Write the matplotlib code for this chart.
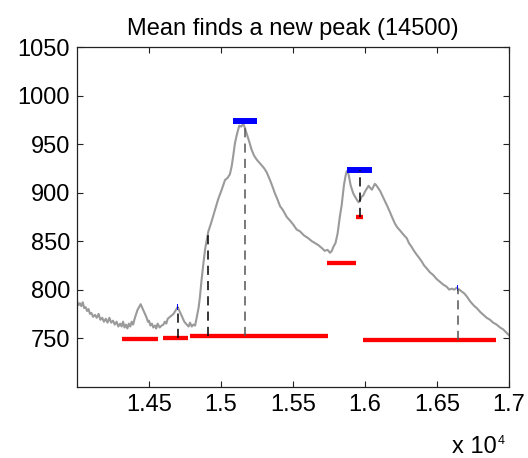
import matplotlib
matplotlib.use("Agg")
import matplotlib.pyplot as plt

plt.rcParams['font.family'] = ['Liberation Sans', 'DejaVu Sans']

title = "Mean finds a new peak (14500)"

signal_x = [14000, 14010, 14020, 14030, 14040, 14050, 14060, 14070, 14080, 14090,
            14100, 14112, 14125, 14137, 14150, 14162, 14175, 14187, 14200, 14212,
            14225, 14237, 14250, 14262, 14275, 14287, 14300, 14310, 14320, 14330,
            14340, 14350, 14360, 14370, 14380, 14390, 14400, 14420,
            14442, 14460, 14484, 14492, 14500, 14510, 14520, 14530, 14542, 14550,
            14560, 14574, 14588, 14600, 14610, 14620, 14630,
            14646, 14670, 14699, 14715, 14727, 14745, 14762, 14775, 14785, 14797,
            14808, 14820, 14831,
            14845, 14854, 14865, 14877, 14890, 14901, 14912, 14930, 14958, 14980,
            15005, 15028, 15045, 15062, 15074, 15085, 15097, 15112, 15127, 15140,
            15155, 15165, 15178, 15195, 15213, 15230, 15248, 15265, 15283, 15300,
            15317, 15340, 15358, 15375, 15392, 15410, 15430, 15456, 15480, 15502,
            15525, 15549, 15575, 15606, 15630, 15653, 15675, 15699, 15720, 15740,
            15757, 15770, 15780, 15795, 15810, 15825, 15838, 15854, 15866, 15873,
            15884, 15893, 15901, 15919, 15930, 15942, 15955, 15965, 15978, 15988,
            16000, 16012, 16025, 16035, 16048, 16058, 16068, 16076, 16090, 16104,
            16120, 16139, 16155, 16173, 16190, 16208, 16225, 16243, 16265, 16290,
            16305, 16324, 16340, 16359, 16375, 16394, 16410, 16428, 16450, 16474,
            16497, 16521, 16545, 16567, 16585, 16602, 16620, 16637, 16655, 16672,
            16690, 16707, 16725, 16741, 16760, 16776, 16800, 16822, 16845, 16868,
            16890, 16914, 16938, 16960, 16980, 17000]
signal_y = [788, 784, 786, 783, 787, 781, 782, 778, 780, 775,
            776, 772, 774, 771, 775, 769, 771, 767, 770, 766,
            771, 766, 768, 764, 767, 762, 765, 762, 767, 761,
            764, 760, 765, 762, 767, 764, 770, 779,
            785, 779, 771, 767, 768, 763, 765, 761, 763, 760,
            765, 761, 763, 764, 767, 765, 770,
            772, 775, 782, 777, 773, 767, 764, 762, 766, 762,
            764, 763, 771,
            782, 793, 810, 826, 842, 851, 860, 868, 882, 893,
            903, 913, 915, 919, 927, 938, 951, 961, 969, 968,
            971, 967, 961, 953, 944, 938, 934, 931, 928, 925,
            921, 913, 906, 899, 893, 886, 882, 875, 871, 867,
            862, 860, 856, 853, 850, 848, 846, 843, 840, 841,
            838, 840, 844, 848, 858, 875, 887, 908, 918, 922,
            920, 913, 907, 899, 896, 893, 890, 892, 896, 897,
            901, 904, 907, 905, 903, 906, 909, 908, 905, 902,
            897, 891, 886, 880, 874, 868, 864, 861, 857, 853,
            848, 844, 840, 836, 833, 829, 825, 822, 818, 815,
            811, 808, 805, 803, 800, 801, 800, 802, 800, 798,
            796, 793, 789, 786, 783, 781, 777, 774, 771, 769,
            766, 764, 761, 759, 756, 753]

red_start = [14315, 14595, 14786, 15738, 15937, 15985]
red_end = [14560, 14769, 15745, 15939, 15988, 16907]
red_level = [749, 750.5, 752.5, 827, 875, 748]

blue_start = [15085, 15877, 14697, 16640]
blue_end = [15248, 16051, 14702, 16646]
blue_level = [973.5, 923.5, 782, 802]

dash_x = [14699, 14913, 15167, 15963, 16643]
dash_bottom = [750.5, 752.5, 752.5, 875, 748]
dash_top = [782, 861, 972, 923, 801]
dash_color = ['black', 'black', '#555555', 'black', '#555555']

xtick_vals = [14500, 15000, 15500, 16000, 16500, 17000]
xtick_labels = ['1.45', '1.5', '1.55', '1.6', '1.65', '1.7']
ytick_vals = [750, 800, 850, 900, 950, 1000, 1050]

fig = plt.figure(figsize=(5.28, 4.58), dpi=100)
ax = fig.add_axes([77/528, 1 - 386.7/458, (509 - 77)/528, (386.7 - 47)/458])

ax.plot(signal_x, signal_y, color='#9a9a9a', lw=1.5, zorder=2)

for xs, xe, lv in zip(red_start, red_end, red_level):
    ax.plot([xs, xe], [lv, lv], color='#ff0000', lw=3.1, solid_capstyle='butt', zorder=3)
for xs, xe, lv in zip(blue_start, blue_end, blue_level):
    ax.plot([xs, xe], [lv, lv], color='#0000ff', lw=4.3, solid_capstyle='butt', zorder=3)
for dx, db, dt, dc in zip(dash_x, dash_bottom, dash_top, dash_color):
    ax.plot([dx, dx], [db, dt], color=dc, lw=1.1, ls=(0, (6, 4)), zorder=4)

ax.set_xlim(14000, 17000)
ax.set_ylim(700, 1050)
ax.set_xticks(xtick_vals)
ax.set_xticklabels(xtick_labels)
ax.set_yticks(ytick_vals)
ax.set_yticklabels([str(v) for v in ytick_vals])
ax.tick_params(direction='in', top=True, right=True, length=4, width=0.8,
               labelsize=17, pad=5, colors='#222222', labelcolor='black')
for sp in ax.spines.values():
    sp.set_linewidth(0.9)
    sp.set_color('#222222')

ax.set_title(title, fontsize=17, pad=9)

fig.text(497/528, 1 - 453/458, 'x 10', fontsize=17, ha='right', va='baseline')
fig.text(498/528, 1 - 444/458, '4', fontsize=9, ha='left', va='baseline')

fig.savefig('out.png', dpi=100)
